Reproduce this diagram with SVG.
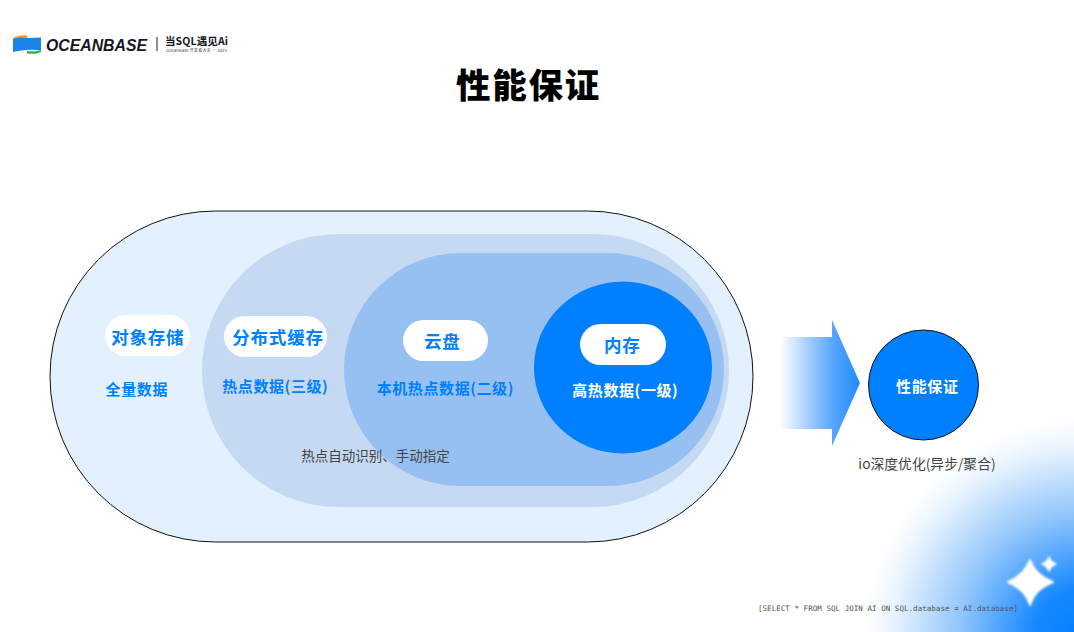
<svg xmlns="http://www.w3.org/2000/svg" width="1074" height="632" viewBox="0 0 1074 632">
<defs>
<radialGradient id="corner" gradientUnits="userSpaceOnUse" cx="1085" cy="640" r="235">
<stop offset="0" stop-color="#0080ff"/><stop offset="0.22" stop-color="#1688ff"/><stop offset="0.55" stop-color="#96c8fb"/><stop offset="0.8" stop-color="#e2f0fe"/><stop offset="1" stop-color="#ffffff" stop-opacity="0"/>
</radialGradient>
<linearGradient id="arrowG" gradientUnits="userSpaceOnUse" x1="780" y1="0" x2="860" y2="0">
<stop offset="0" stop-color="#ffffff"/><stop offset="0.65" stop-color="#5aa6ff"/><stop offset="1" stop-color="#1f8bff"/>
</linearGradient>
<filter id="soft" x="-30%" y="-30%" width="160%" height="160%"><feGaussianBlur stdDeviation="1.3"/></filter>
</defs>
<style>
text{font-family:"Noto Sans CJK SC","Noto Sans",sans-serif}
.blue{fill:#0080ff;font-weight:700;text-anchor:middle}
.white{fill:#fff;font-weight:700;text-anchor:middle}
.big{font-size:17.500px;letter-spacing:.8px}
.small{font-size:15px;letter-spacing:.6px}
.gray{fill:#444;text-anchor:middle}
.pill{fill:#fff}
</style>
<rect width="1074" height="632" fill="#fff"/>
<rect id="corner-glow" x="830" y="400" width="244" height="232" fill="url(#corner)"/>
<g id="logo">
<path d="M13 38.500C20 36.500 25 36.500 29 38L41 37.500V50.500C33 49 25 49.500 13 52Z" fill="#1a84e8"/>
<path d="M13 38C18 35.500 22 35 27 35.500V38C22 37 18 37.500 13 39Z" fill="#f39a1e"/>
<path d="M27 51C32 51.500 37 51.500 41 50V52C37 54 32 54 27 53.500Z" fill="#35b34a"/>
<text x="46" y="50.800" font-style="italic" font-weight="700" font-size="17" fill="#14181f" style="font-family:'Liberation Sans'" textLength="101" lengthAdjust="spacingAndGlyphs">OCEANBASE</text>
<rect x="156.500" y="37" width="1" height="14" fill="#222"/>
<text x="165" y="45" font-size="10.500" font-weight="700" fill="#14181f" textLength="63">当SQL遇见Ai</text>
<text x="166" y="51.500" font-size="4" fill="#333" textLength="61">OceanBase 开发者大会 · 2025</text>
</g>
<text id="title" x="528.500" y="98" font-size="34.500" font-weight="900" fill="#000" text-anchor="middle" letter-spacing="1.800">性能保证</text>
<g id="outer"><rect x="50" y="211" width="703" height="331" rx="165.500" fill="#e3f0fd" stroke="#111" stroke-width="1"/>
<rect x="105" y="315" width="85" height="41" rx="20.500" class="pill"/>
<text x="147.800" y="343.500" class="blue big">对象存储</text>
<text x="136.800" y="395" class="blue small">全量数据</text>
</g>
<g id="layer-3"><rect x="202" y="234" width="527" height="273" rx="136.500" fill="#c6d9f3"/>
<rect x="224" y="316" width="103" height="41" rx="20.500" class="pill"/>
<text x="278" y="343.500" class="blue big">分布式缓存</text>
<text x="275.300" y="392" class="blue small">热点数据(三级)</text>
</g>
<g id="layer-2"><rect x="344" y="253" width="380" height="233" rx="116.500" fill="#95c0f1"/>
<rect x="403" y="320" width="85" height="41" rx="20.500" class="pill"/>
<text x="442.300" y="348" class="blue big">云盘</text>
<text x="445.300" y="394" class="blue small">本机热点数据(二级)</text>
</g>
<g id="layer-1"><ellipse cx="623" cy="367.500" rx="89" ry="86" fill="#0080ff"/>
<rect x="580" y="324" width="86" height="41" rx="20.500" class="pill"/>
<text x="622.300" y="351.500" class="blue big">内存</text>
<text x="625.300" y="396" class="white small">高热数据(一级)</text>
</g>
<text id="auto-label" x="375.500" y="461" class="gray" font-size="13.500">热点自动识别、手动指定</text>
<g id="connectors"><path d="M780 337H832V320L860 383L832 446V429H780Z" fill="url(#arrowG)"/></g>
<g id="result"><circle cx="923.500" cy="385" r="55" fill="#0080ff" stroke="#111" stroke-width="1"/>
<text x="927.300" y="392" class="white small">性能保证</text>
</g>
<text id="io-label" x="927" y="469" class="gray" font-size="13.800">io深度优化(异步/聚合)</text>
<text id="sql" x="888" y="611" font-size="7.500" fill="#555" text-anchor="middle" style="font-family:'DejaVu Sans Mono','Liberation Mono',monospace" textLength="260">[SELECT * FROM SQL JOIN AI ON SQL.database = AI.database]</text>
<g id="sparkle" fill="#fff" filter="url(#soft)">
<path d="M1030 560C1034 571 1041 577 1053 582C1041 587 1034 593 1030 605C1026 593 1019 587 1008 582C1019 577 1026 571 1030 560Z" stroke="#fff" stroke-width="2" stroke-linejoin="round"/>
<path d="M1049 557C1050 561 1053 563 1056 564C1053 565 1050 568 1049 571C1048 568 1045 565 1042 564C1045 563 1048 561 1049 557Z" stroke="#fff" stroke-width="1.500" stroke-linejoin="round"/>
</g>
</svg>
